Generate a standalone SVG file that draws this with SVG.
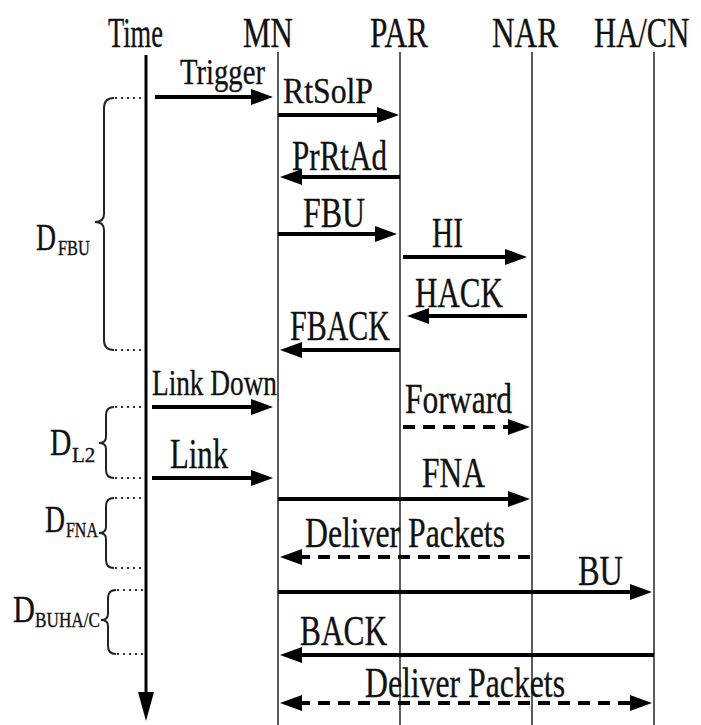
<svg xmlns="http://www.w3.org/2000/svg" width="701" height="725" viewBox="0 0 701 725">
<style>
text{font-family:"Liberation Serif","Times New Roman",serif;fill:#111;stroke:#111;stroke-width:0.35}
.hd{font-size:42px}
.lb{font-size:43px}
.sm{font-size:36px}
.d{font-size:38px}
.sub{font-size:21px}
.life{stroke:#333;stroke-width:1.6;fill:none}
.msg{stroke:#000;stroke-width:4;fill:none;marker-end:url(#ah)}
.dash{stroke-dasharray:12 8}
.brace{stroke:#222;stroke-width:2;fill:none}
.dot{stroke:#333;stroke-width:2;stroke-dasharray:2 4;fill:none}
</style>
<defs>
<marker id="ah" markerUnits="userSpaceOnUse" markerWidth="22" markerHeight="16" refX="4" refY="8" orient="auto-start-reverse">
<path d="M0,0 L22,8 L0,16 z" fill="#000"/>
</marker>
</defs>
<rect width="701" height="725" fill="#fff"/>

<g id="time">
<text class="hd" x="108" y="47" textLength="55" lengthAdjust="spacingAndGlyphs">Time</text>
<line x1="146" y1="55" x2="146" y2="700" stroke="#000" stroke-width="3"/>
<polygon points="138,692 154,692 146,721" fill="#000"/>
</g>
<g id="MN">
<text class="hd" x="243" y="47" textLength="50" lengthAdjust="spacingAndGlyphs">MN</text>
<line class="life" x1="278" y1="52" x2="278" y2="725"/>
</g>
<g id="PAR">
<text class="hd" x="370" y="47" textLength="58" lengthAdjust="spacingAndGlyphs">PAR</text>
<line class="life" x1="400" y1="52" x2="400" y2="725"/>
</g>
<g id="NAR">
<text class="hd" x="492" y="47" textLength="66" lengthAdjust="spacingAndGlyphs">NAR</text>
<line class="life" x1="532" y1="52" x2="532" y2="725"/>
</g>
<g id="HACN">
<text class="hd" transform="translate(594,47) scale(0.73,1)">HA/CN</text>
<line class="life" x1="654" y1="52" x2="654" y2="725"/>
</g>

<g id="delays">
<g id="dfbu">
<path class="brace" d="M114,98 Q104,98 104,108 L104,214 Q104,222 95,222 Q104,222 104,230 L104,340 Q104,350 114,350"/>
<path class="dot" d="M115,98 H144 M115,350 H144"/>
<text class="d" transform="translate(36,250) scale(0.73,1)">D</text>
<text class="sub" transform="translate(58,255) scale(0.78,1)">FBU</text>
</g>
<g id="dl2">
<path class="brace" d="M114,407 Q106,407 106,415 L106,437 Q106,443 99,443 Q106,443 106,449 L106,470 Q106,478 114,478"/>
<path class="dot" d="M115,407 H144 M115,478 H144"/>
<text class="d" transform="translate(50,455) scale(0.78,1)">D</text>
<text class="sub" transform="translate(72,462) scale(1,1)">L2</text>
</g>
<g id="dfna">
<path class="brace" d="M114,498 Q106,498 106,506 L106,527 Q106,533 99,533 Q106,533 106,539 L106,560 Q106,568 114,568"/>
<path class="dot" d="M115,498 H144 M115,568 H144"/>
<text class="d" transform="translate(45,532) scale(0.73,1)">D</text>
<text class="sub" transform="translate(66,537) scale(0.76,1)">FNA</text>
</g>
<g id="dbu">
<path class="brace" d="M116,590 Q108,590 108,598 L108,614 Q108,620 101,620 Q108,620 108,626 L108,646 Q108,654 116,654"/>
<path class="dot" d="M117,590 H144 M117,654 H144"/>
<text class="d" transform="translate(13,622) scale(0.8,1)">D</text>
<text class="sub" transform="translate(35,627) scale(0.82,1)">BUHA/C</text>
</g>
</g>

<g id="connectors">
<path class="msg" d="M155,97 H255"/>
<path class="msg" d="M278,115 H381"/>
<path class="msg" d="M400,177 H298"/>
<path class="msg" d="M278,234 H379"/>
<path class="msg" d="M403,257 H509"/>
<path class="msg" d="M527,316 H425"/>
<path class="msg" d="M400,350 H298"/>
<path class="msg" d="M152,407 H255"/>
<path class="msg dash" d="M403,427 H512"/>
<path class="msg" d="M152,478 H255"/>
<path class="msg" d="M278,499 H512"/>
<path class="msg dash" d="M530,557 H298"/>
<path class="msg" d="M278,592 H634"/>
<path class="msg" d="M654,655 H298"/>
<path class="msg dash" d="M298,703 H634" marker-start="url(#ah)"/>
</g>

<g id="labels">
<text class="sm" x="180" y="84" textLength="85" lengthAdjust="spacingAndGlyphs">Trigger</text>
<text class="sm" x="283" y="103" textLength="90" lengthAdjust="spacingAndGlyphs">RtSolP</text>
<text class="lb" x="292" y="170" textLength="95" lengthAdjust="spacingAndGlyphs">PrRtAd</text>
<text class="lb" x="303" y="227" textLength="62" lengthAdjust="spacingAndGlyphs">FBU</text>
<text class="lb" x="432" y="247" textLength="31" lengthAdjust="spacingAndGlyphs">HI</text>
<text class="lb" x="415" y="307" textLength="88" lengthAdjust="spacingAndGlyphs">HACK</text>
<text class="lb" x="290" y="340" textLength="100" lengthAdjust="spacingAndGlyphs">FBACK</text>
<text class="sm" x="152" y="395" textLength="125" lengthAdjust="spacingAndGlyphs">Link Down</text>
<text class="lb" x="405" y="413" textLength="107" lengthAdjust="spacingAndGlyphs">Forward</text>
<text class="lb" x="170" y="468" textLength="58" lengthAdjust="spacingAndGlyphs">Link</text>
<text class="lb" x="422" y="487" textLength="63" lengthAdjust="spacingAndGlyphs">FNA</text>
<text class="lb" x="305" y="547" textLength="200" lengthAdjust="spacingAndGlyphs">Deliver Packets</text>
<text class="lb" x="578" y="585" textLength="45" lengthAdjust="spacingAndGlyphs">BU</text>
<text class="lb" x="300" y="645" textLength="87" lengthAdjust="spacingAndGlyphs">BACK</text>
<text class="lb" x="365" y="697" textLength="200" lengthAdjust="spacingAndGlyphs">Deliver Packets</text>
</g>
</svg>
